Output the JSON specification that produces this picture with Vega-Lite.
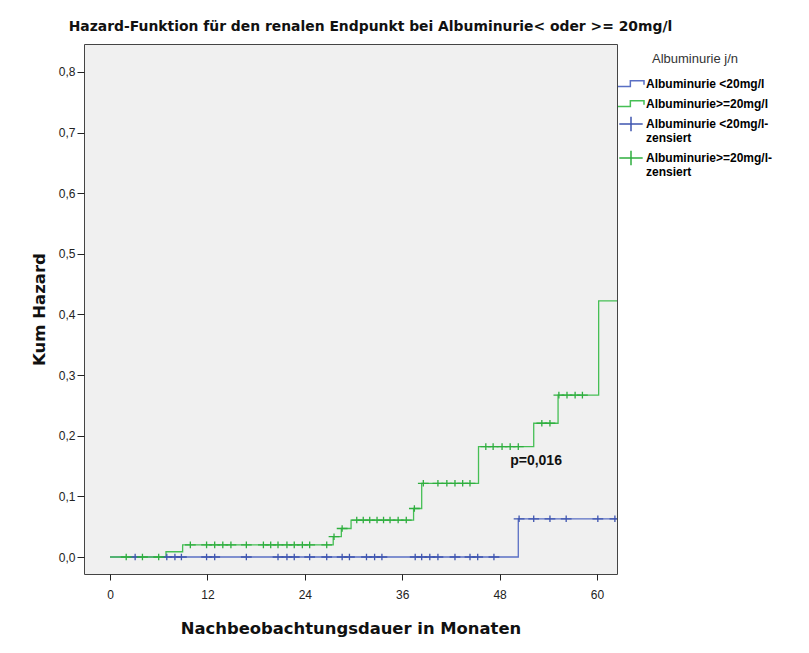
{
  "$schema": "https://vega.github.io/schema/vega-lite/v6.json",
  "width": 533,
  "height": 530,
  "autosize": {"type": "none"},
  "padding": {"left": 84, "top": 44, "right": 192, "bottom": 79},
  "background": "white",
  "title": {"text": "Hazard-Funktion für den renalen Endpunkt bei Albuminurie< oder >= 20mg/l", "font": "DejaVu Sans", "fontSize": 13.9, "fontWeight": "bold", "color": "#111", "anchor": "middle", "dx": 20, "offset": 10},
  "config": {
    "font": "Liberation Sans",
    "view": {"fill": "#f0f0f0", "stroke": "#444", "strokeWidth": 1},
    "axis": {"labelFont": "Liberation Sans", "labelFontSize": 12, "labelColor": "#222", "tickColor": "#222", "titleFont": "DejaVu Sans", "titleColor": "#111", "titleFontWeight": "bold", "grid": false, "domain": false},
    "style": {"guide-label": {"lineHeight": 13.5}}
  },
  "datasets": {
    "lines": [
      {"t": 0, "h": 0, "grp": "Albuminurie <20mg/l"},
      {"t": 50.3, "h": 0.063, "grp": "Albuminurie <20mg/l"},
      {"t": 62.5, "h": 0.063, "grp": "Albuminurie <20mg/l"},
      {"t": 0, "h": 0, "grp": "Albuminurie>=20mg/l"},
      {"t": 6.9, "h": 0.0087, "grp": "Albuminurie>=20mg/l"},
      {"t": 8.95, "h": 0.02, "grp": "Albuminurie>=20mg/l"},
      {"t": 27.5, "h": 0.0335, "grp": "Albuminurie>=20mg/l"},
      {"t": 28.5, "h": 0.047, "grp": "Albuminurie>=20mg/l"},
      {"t": 29.7, "h": 0.061, "grp": "Albuminurie>=20mg/l"},
      {"t": 37.4, "h": 0.08, "grp": "Albuminurie>=20mg/l"},
      {"t": 38.4, "h": 0.1216, "grp": "Albuminurie>=20mg/l"},
      {"t": 45.4, "h": 0.182, "grp": "Albuminurie>=20mg/l"},
      {"t": 52.2, "h": 0.2206, "grp": "Albuminurie>=20mg/l"},
      {"t": 55.2, "h": 0.267, "grp": "Albuminurie>=20mg/l"},
      {"t": 60.2, "h": 0.4224, "grp": "Albuminurie>=20mg/l"},
      {"t": 62.5, "h": 0.4224, "grp": "Albuminurie>=20mg/l"}
    ],
    "censored": [
      {"t": 3.1, "h": 0, "grp": "Albuminurie <20mg/l-zensiert"},
      {"t": 7.0, "h": 0, "grp": "Albuminurie <20mg/l-zensiert"},
      {"t": 8.0, "h": 0, "grp": "Albuminurie <20mg/l-zensiert"},
      {"t": 8.8, "h": 0, "grp": "Albuminurie <20mg/l-zensiert"},
      {"t": 11.9, "h": 0, "grp": "Albuminurie <20mg/l-zensiert"},
      {"t": 12.9, "h": 0, "grp": "Albuminurie <20mg/l-zensiert"},
      {"t": 16.8, "h": 0, "grp": "Albuminurie <20mg/l-zensiert"},
      {"t": 20.7, "h": 0, "grp": "Albuminurie <20mg/l-zensiert"},
      {"t": 21.8, "h": 0, "grp": "Albuminurie <20mg/l-zensiert"},
      {"t": 22.7, "h": 0, "grp": "Albuminurie <20mg/l-zensiert"},
      {"t": 24.6, "h": 0, "grp": "Albuminurie <20mg/l-zensiert"},
      {"t": 26.7, "h": 0, "grp": "Albuminurie <20mg/l-zensiert"},
      {"t": 28.6, "h": 0, "grp": "Albuminurie <20mg/l-zensiert"},
      {"t": 29.5, "h": 0, "grp": "Albuminurie <20mg/l-zensiert"},
      {"t": 31.6, "h": 0, "grp": "Albuminurie <20mg/l-zensiert"},
      {"t": 32.6, "h": 0, "grp": "Albuminurie <20mg/l-zensiert"},
      {"t": 33.5, "h": 0, "grp": "Albuminurie <20mg/l-zensiert"},
      {"t": 37.6, "h": 0, "grp": "Albuminurie <20mg/l-zensiert"},
      {"t": 38.4, "h": 0, "grp": "Albuminurie <20mg/l-zensiert"},
      {"t": 39.4, "h": 0, "grp": "Albuminurie <20mg/l-zensiert"},
      {"t": 40.4, "h": 0, "grp": "Albuminurie <20mg/l-zensiert"},
      {"t": 42.5, "h": 0, "grp": "Albuminurie <20mg/l-zensiert"},
      {"t": 44.35, "h": 0, "grp": "Albuminurie <20mg/l-zensiert"},
      {"t": 45.3, "h": 0, "grp": "Albuminurie <20mg/l-zensiert"},
      {"t": 47.3, "h": 0, "grp": "Albuminurie <20mg/l-zensiert"},
      {"t": 50.4, "h": 0.063, "grp": "Albuminurie <20mg/l-zensiert"},
      {"t": 52.2, "h": 0.063, "grp": "Albuminurie <20mg/l-zensiert"},
      {"t": 54.2, "h": 0.063, "grp": "Albuminurie <20mg/l-zensiert"},
      {"t": 56.2, "h": 0.063, "grp": "Albuminurie <20mg/l-zensiert"},
      {"t": 60.1, "h": 0.063, "grp": "Albuminurie <20mg/l-zensiert"},
      {"t": 62.2, "h": 0.063, "grp": "Albuminurie <20mg/l-zensiert"},
      {"t": 2.0, "h": 0, "grp": "Albuminurie>=20mg/l-zensiert"},
      {"t": 4.0, "h": 0, "grp": "Albuminurie>=20mg/l-zensiert"},
      {"t": 6.0, "h": 0, "grp": "Albuminurie>=20mg/l-zensiert"},
      {"t": 9.9, "h": 0.02, "grp": "Albuminurie>=20mg/l-zensiert"},
      {"t": 11.9, "h": 0.02, "grp": "Albuminurie>=20mg/l-zensiert"},
      {"t": 12.9, "h": 0.02, "grp": "Albuminurie>=20mg/l-zensiert"},
      {"t": 13.9, "h": 0.02, "grp": "Albuminurie>=20mg/l-zensiert"},
      {"t": 14.9, "h": 0.02, "grp": "Albuminurie>=20mg/l-zensiert"},
      {"t": 16.8, "h": 0.02, "grp": "Albuminurie>=20mg/l-zensiert"},
      {"t": 18.9, "h": 0.02, "grp": "Albuminurie>=20mg/l-zensiert"},
      {"t": 19.8, "h": 0.02, "grp": "Albuminurie>=20mg/l-zensiert"},
      {"t": 20.7, "h": 0.02, "grp": "Albuminurie>=20mg/l-zensiert"},
      {"t": 21.8, "h": 0.02, "grp": "Albuminurie>=20mg/l-zensiert"},
      {"t": 22.7, "h": 0.02, "grp": "Albuminurie>=20mg/l-zensiert"},
      {"t": 23.7, "h": 0.02, "grp": "Albuminurie>=20mg/l-zensiert"},
      {"t": 24.6, "h": 0.02, "grp": "Albuminurie>=20mg/l-zensiert"},
      {"t": 26.7, "h": 0.02, "grp": "Albuminurie>=20mg/l-zensiert"},
      {"t": 27.6, "h": 0.0335, "grp": "Albuminurie>=20mg/l-zensiert"},
      {"t": 28.6, "h": 0.047, "grp": "Albuminurie>=20mg/l-zensiert"},
      {"t": 30.4, "h": 0.061, "grp": "Albuminurie>=20mg/l-zensiert"},
      {"t": 31.2, "h": 0.061, "grp": "Albuminurie>=20mg/l-zensiert"},
      {"t": 32.0, "h": 0.061, "grp": "Albuminurie>=20mg/l-zensiert"},
      {"t": 32.9, "h": 0.061, "grp": "Albuminurie>=20mg/l-zensiert"},
      {"t": 33.7, "h": 0.061, "grp": "Albuminurie>=20mg/l-zensiert"},
      {"t": 34.5, "h": 0.061, "grp": "Albuminurie>=20mg/l-zensiert"},
      {"t": 35.5, "h": 0.061, "grp": "Albuminurie>=20mg/l-zensiert"},
      {"t": 36.5, "h": 0.061, "grp": "Albuminurie>=20mg/l-zensiert"},
      {"t": 37.5, "h": 0.08, "grp": "Albuminurie>=20mg/l-zensiert"},
      {"t": 38.6, "h": 0.1216, "grp": "Albuminurie>=20mg/l-zensiert"},
      {"t": 40.4, "h": 0.1216, "grp": "Albuminurie>=20mg/l-zensiert"},
      {"t": 41.5, "h": 0.1216, "grp": "Albuminurie>=20mg/l-zensiert"},
      {"t": 42.5, "h": 0.1216, "grp": "Albuminurie>=20mg/l-zensiert"},
      {"t": 43.45, "h": 0.1216, "grp": "Albuminurie>=20mg/l-zensiert"},
      {"t": 44.35, "h": 0.1216, "grp": "Albuminurie>=20mg/l-zensiert"},
      {"t": 46.3, "h": 0.182, "grp": "Albuminurie>=20mg/l-zensiert"},
      {"t": 47.2, "h": 0.182, "grp": "Albuminurie>=20mg/l-zensiert"},
      {"t": 48.3, "h": 0.182, "grp": "Albuminurie>=20mg/l-zensiert"},
      {"t": 49.3, "h": 0.182, "grp": "Albuminurie>=20mg/l-zensiert"},
      {"t": 50.3, "h": 0.182, "grp": "Albuminurie>=20mg/l-zensiert"},
      {"t": 53.2, "h": 0.2206, "grp": "Albuminurie>=20mg/l-zensiert"},
      {"t": 54.2, "h": 0.2206, "grp": "Albuminurie>=20mg/l-zensiert"},
      {"t": 55.3, "h": 0.267, "grp": "Albuminurie>=20mg/l-zensiert"},
      {"t": 56.3, "h": 0.267, "grp": "Albuminurie>=20mg/l-zensiert"},
      {"t": 57.3, "h": 0.267, "grp": "Albuminurie>=20mg/l-zensiert"},
      {"t": 58.2, "h": 0.267, "grp": "Albuminurie>=20mg/l-zensiert"}
    ],
    "annot": [
      {"t": 49.3, "h": 0.158, "label": "p=0,016"}
    ]
  },
  "layer": [
    {
      "data": {"name": "lines"},
      "mark": {"type": "line", "interpolate": "step-after", "strokeWidth": 1.3, "clip": true},
      "encoding": {
        "x": {"field": "t", "type": "quantitative", "scale": {"domain": [-3.2, 62.46], "nice": false, "zero": false},
          "axis": {"values": [0, 12, 24, 36, 48, 60], "title": "Nachbeobachtungsdauer in Monaten", "titleFontSize": 16.4, "tickSize": 6, "labelPadding": 9, "titlePadding": 20}},
        "y": {"field": "h", "type": "quantitative", "scale": {"domain": [-0.028, 0.846], "nice": false, "zero": false},
          "axis": {"values": [0, 0.1, 0.2, 0.3, 0.4, 0.5, 0.6, 0.7, 0.8], "labelExpr": "replace(format(datum.value, '.1f'), '.', ',')", "title": "Kum Hazard", "titleFontSize": 16.5, "tickSize": 7, "labelPadding": 2, "titlePadding": 11}},
        "stroke": {"field": "grp", "type": "nominal", "scale": {"domain": ["Albuminurie <20mg/l", "Albuminurie>=20mg/l"], "range": ["#5a6fc4", "#46bf55"]}, "legend": null}
      }
    },
    {
      "data": {"name": "censored"},
      "mark": {"type": "point", "filled": false, "strokeWidth": 1.3, "size": 144, "opacity": 1, "clip": true},
      "encoding": {
        "x": {"field": "t", "type": "quantitative"},
        "y": {"field": "h", "type": "quantitative"},
        "color": {"field": "grp", "type": "nominal",
          "scale": {"domain": ["Albuminurie <20mg/l", "Albuminurie>=20mg/l", "Albuminurie <20mg/l-zensiert", "Albuminurie>=20mg/l-zensiert"], "range": ["#5a6fc4", "#46bf55", "#3f56b0", "#2fae3f"]},
          "legend": {"title": "Albuminurie j/n", "orient": "none", "legendX": 533, "legendY": 9, "padding": 0, "titleFontSize": 13, "titleFontWeight": "normal", "titleColor": "#333", "titleFont": "Liberation Sans", "titleAnchor": "middle", "titlePadding": 4, "labelFont": "Liberation Sans", "labelFontSize": 12, "labelFontWeight": "bold", "labelColor": "#000", "labelOffset": 1, "symbolSize": 676, "symbolStrokeWidth": 1.5, "rowPadding": 0,
            "labelExpr": "indexof(datum.label, 'zensiert') > 0 ? [replace(datum.label, 'zensiert', ''), 'zensiert'] : datum.label"}},
        "shape": {"field": "grp", "type": "nominal",
          "scale": {"domain": ["Albuminurie <20mg/l", "Albuminurie>=20mg/l", "Albuminurie <20mg/l-zensiert", "Albuminurie>=20mg/l-zensiert"], "range": ["M-1,0.2 H-0.05 V-0.25 H1 V0.05", "M-1,0.2 H-0.05 V-0.25 H1 V0.05", "M-0.9,0 H0.9 M0,-0.55 V0.55", "M-0.9,0 H0.9 M0,-0.55 V0.55"]},
          "legend": {"title": "Albuminurie j/n"}}
      }
    },
    {
      "data": {"name": "annot"},
      "mark": {"type": "text", "font": "Liberation Sans", "fontWeight": "bold", "fontSize": 14, "align": "left", "baseline": "middle", "color": "#111"},
      "encoding": {
        "x": {"field": "t", "type": "quantitative"},
        "y": {"field": "h", "type": "quantitative"},
        "text": {"field": "label"}
      }
    }
  ]
}
